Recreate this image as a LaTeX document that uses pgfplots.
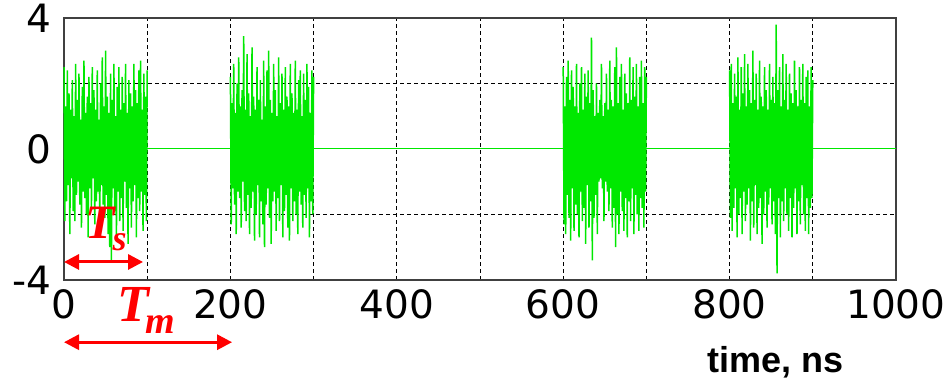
\documentclass[border=0pt]{standalone}
\usepackage{fontspec}
\setmainfont{DejaVu Sans}
\newfontfamily\labfont{Liberation Sans}
\newfontfamily\tfont{Liberation Serif}
\usepackage{pgfplots}
\pgfplotsset{compat=1.18}
\usetikzlibrary{arrows.meta,calc}
\definecolor{sig}{RGB}{0,232,0}
\begin{document}
\begin{tikzpicture}
\begin{axis}[name=ax,
  scale only axis, width=416pt, height=131pt,
  xmin=0, xmax=1000, ymin=-4, ymax=4,
  xtick={0,200,400,600,800,1000},
  minor xtick={100,300,500,700,900},
  ytick={-4,0,4}, minor ytick={-2,2},
  grid=both,
  major grid style={black, line width=0.5pt, dash pattern=on 2pt off 1.5pt},
  minor grid style={black, line width=0.5pt, dash pattern=on 2pt off 1.5pt},
  tick style={draw=none},
  axis line style={black!75, line width=0.6pt},
  /pgf/number format/assume math mode=true,
  /pgf/number format/1000 sep={},
  tick label style={font=\fontsize{19.5}{22}\selectfont},
  xticklabel style={anchor=north, inner sep=0pt, yshift=-4.5pt},
  yticklabel style={anchor=east, inner sep=0pt, xshift=-6pt},
  clip=false,
]
\addplot[sig, line width=0.5pt] coordinates {(0,0) (1000,0)};
\addplot[sig, line width=0.75pt, sharp plot] table {
x y
0 2.5
1 -2.2
2 1.3
3 -1.6
4 2.4
5 -1.1
6 1.7
7 -2.6
8 1.2
9 -0.9
10 2.1
11 -1.9
12 1.0
13 -2.2
14 2.6
15 -1.4
16 1.5
17 -1.0
18 2.3
19 -1.7
20 0.9
21 -2.4
22 1.9
23 -1.3
24 2.7
25 -1.5
26 1.1
27 -2.0
28 1.6
29 -2.7
30 2.2
31 -1.2
32 1.4
33 -1.8
34 2.5
35 -0.9
36 1.8
37 -2.3
38 1.2
39 -1.6
40 2.4
41 -1.3
42 0.9
43 -2.5
44 2.0
45 -1.1
46 2.8
47 -1.7
48 1.3
49 -2.1
50 3.0
51 -1.4
52 1.6
53 -2.6
54 1.1
55 -3.0
56 2.3
57 -3.4
58 1.5
59 -1.2
60 2.6
61 -1.9
62 1.0
63 -2.8
64 1.9
65 -1.3
66 2.5
67 -2.2
68 1.2
69 -1.5
70 2.2
71 -2.5
72 1.4
73 -1.0
74 2.6
75 -1.8
76 1.1
77 -2.9
78 2.1
79 -1.2
80 1.7
81 -2.4
82 1.3
83 -1.6
84 2.6
85 -1.1
86 1.8
87 -2.7
88 1.4
89 -1.5
90 2.4
91 -1.9
92 2.7
93 -1.3
94 1.2
95 -2.5
96 2.3
97 -1.4
98 1.6
99 -2.2
100 2.4
};
\addplot[sig, line width=0.75pt, sharp plot] table {
x y
200 2.2
201 -2.3
202 1.4
203 -1.2
204 2.6
205 -1.7
206 1.1
207 -2.6
208 2.0
209 -1.3
210 2.8
211 -1.5
212 1.3
213 -2.4
214 1.8
215 -1.0
216 3.45
217 -1.9
218 1.2
219 -2.2
220 2.9
221 -1.4
222 1.7
223 -2.6
224 1.0
225 -1.8
226 3.1
227 -1.3
228 1.6
229 -2.8
230 1.2
231 -2.0
232 2.5
233 -1.1
234 1.5
235 -2.7
236 2.1
237 -1.6
238 0.9
239 -2.3
240 2.7
241 -3.0
242 1.3
243 -1.7
244 2.4
245 -1.2
246 3.0
247 -2.1
248 1.5
249 -2.9
250 1.1
251 -1.6
252 2.6
253 -1.3
254 1.8
255 -2.5
256 1.0
257 -1.5
258 2.8
259 -2.2
260 1.4
261 -1.1
262 2.3
263 -2.7
264 1.2
265 -1.9
266 2.5
267 -1.4
268 1.6
269 -2.4
270 1.3
271 -2.8
272 2.6
273 -1.2
274 1.7
275 -2.2
276 1.1
277 -1.6
278 2.7
279 -2.0
280 1.2
281 -2.6
282 2.1
283 -1.3
284 2.4
285 -1.7
286 1.0
287 -2.4
288 2.3
289 -1.4
290 1.5
291 -2.1
292 2.6
293 -1.2
294 1.9
295 -2.7
296 1.1
297 -1.6
298 2.4
299 -2.0
300 2.2
};
\addplot[sig, line width=0.75pt, sharp plot] table {
x y
600 2.5
601 -2.3
602 1.3
603 -2.6
604 2.2
605 -1.4
606 2.7
607 -2.1
608 1.5
609 -2.8
610 2.4
611 -1.2
612 1.9
613 -2.5
614 1.3
615 -1.7
616 2.6
617 -2.0
618 1.1
619 -2.7
620 2.0
621 -1.3
622 2.5
623 -2.2
624 1.2
625 -1.8
626 2.3
627 -2.9
628 1.6
629 -1.1
630 2.4
631 -2.4
632 1.4
633 -1.6
634 3.4
635 -3.4
636 1.8
637 -2.1
638 1.0
639 -1.4
640 2.0
641 -2.6
642 1.1
643 -1.0
644 1.5
645 -0.9
646 2.6
647 -1.2
648 1.0
649 -2.2
650 1.4
651 -1.0
652 2.3
653 -1.3
654 1.2
655 -1.9
656 2.7
657 -1.2
658 1.5
659 -2.4
660 1.3
661 -1.8
662 2.5
663 -3.0
664 3.1
665 -2.0
666 1.4
667 -2.6
668 2.2
669 -1.3
670 2.6
671 -1.9
672 1.2
673 -2.5
674 2.3
675 -1.5
676 1.7
677 -2.7
678 1.4
679 -1.6
680 2.8
681 -2.2
682 1.5
683 -1.2
684 2.5
685 -2.6
686 1.6
687 -1.4
688 2.6
689 -2.0
690 1.3
691 -2.5
692 2.2
693 -1.5
694 2.7
695 -1.8
696 1.4
697 -2.4
698 2.5
699 -1.3
700 2.2
};
\addplot[sig, line width=0.75pt, sharp plot] table {
x y
800 2.4
801 -2.1
802 2.6
803 -2.5
804 1.4
805 -1.8
806 2.3
807 -1.2
808 1.6
809 -2.7
810 2.8
811 -2.0
812 1.2
813 -1.5
814 2.5
815 -2.6
816 1.7
817 -1.3
818 2.9
819 -2.2
820 1.3
821 -1.7
822 2.6
823 -1.2
824 1.8
825 -2.8
826 1.4
827 -1.6
828 3.0
829 -2.4
830 1.5
831 -1.1
832 2.3
833 -2.6
834 1.2
835 -1.8
836 2.7
837 -1.5
838 1.6
839 -2.9
840 1.3
841 -2.0
842 2.5
843 -1.3
844 1.8
845 -2.4
846 1.2
847 -1.7
848 2.6
849 -1.2
850 1.5
851 -2.3
852 2.2
853 -1.6
854 1.4
855 -2.6
856 3.8
857 -3.8
858 1.8
859 -1.5
860 2.5
861 -2.7
862 1.3
863 -1.6
864 2.9
865 -2.2
866 1.5
867 -1.2
868 2.6
869 -2.0
870 1.2
871 -2.5
872 2.3
873 -1.5
874 1.7
875 -2.7
876 1.4
877 -1.8
878 2.7
879 -1.2
880 1.8
881 -2.6
882 1.3
883 -1.6
884 2.5
885 -2.3
886 1.5
887 -1.1
888 2.6
889 -2.0
890 1.4
891 -2.5
892 2.2
893 -1.5
894 2.4
895 -2.6
896 1.3
897 -1.8
898 2.5
899 -1.5
900 2.1
};
\draw[red, line width=1.5pt, {Triangle[length=7.5pt,width=7.5pt]}-{Triangle[length=7.5pt,width=7.5pt]}]
  (axis cs:0,-3.45) -- (axis cs:95,-3.45);
\draw[red, line width=1.5pt, {Triangle[length=7.5pt,width=7.5pt]}-{Triangle[length=7.5pt,width=7.5pt]}]
  (axis cs:0,-5.9) -- (axis cs:202,-5.9);
\node[anchor=base west, inner sep=0pt, text=red] at (axis cs:25,-2.72)
  {\tfont\bfseries\itshape\fontsize{24}{24}\selectfont T\kern-1pt\raisebox{-6pt}{\fontsize{18}{18}\selectfont s}};
\node[anchor=base west, inner sep=0pt, text=red] at (axis cs:64,-5.28)
  {\tfont\bfseries\itshape\fontsize{26}{26}\selectfont T\kern-2pt\raisebox{-6pt}{\fontsize{19}{19}\selectfont m}};
\node[anchor=base west, inner sep=0pt] at (axis cs:773,-6.81)
  {\labfont\bfseries\fontsize{18}{18}\selectfont time, ns};
\end{axis}
\pgfresetboundingbox
\path ($(ax.south west)+(-32pt,-50.5pt)$) rectangle ($(ax.north east)+(24pt,9pt)$);
\end{tikzpicture}
\end{document}
